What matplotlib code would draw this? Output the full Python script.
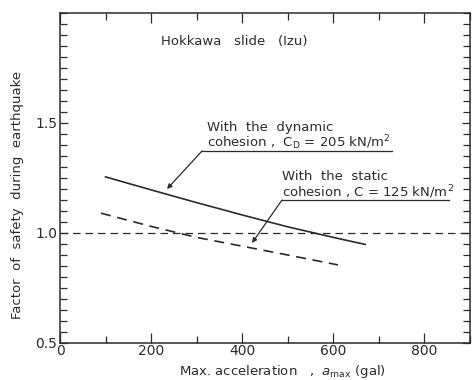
import matplotlib
matplotlib.use("Agg")
import matplotlib.pyplot as plt
from matplotlib.ticker import MultipleLocator, FixedLocator

# Factor of safety vs. maximum acceleration
acc_dynamic = [100, 200, 300, 400, 500, 600, 670]
fs_dynamic = [1.255, 1.196, 1.138, 1.082, 1.028, 0.980, 0.948]

acc_static = [90, 200, 300, 400, 500, 610]
fs_static = [1.09, 1.03, 0.980, 0.940, 0.900, 0.855]

fs_reference = 1.0
y_tick_values = [0.5, 1.0, 1.5]
y_tick_labels = ["0.5", "1.0", "1.5"]
x_tick_values = [0, 200, 400, 600, 800]

ink = "#2b2b2b"
plt.rcParams["font.family"] = ["DejaVu Sans"]

fig = plt.figure(figsize=(4.74, 3.80), dpi=100)
fig.patch.set_facecolor("white")
ax = fig.add_axes([60 / 474, 37 / 380, 410 / 474, 330 / 380])
ax.set_xlim(0, 900)
ax.set_ylim(0.5, 2.0)

ax.plot(acc_dynamic, fs_dynamic, color=ink, lw=1.2)
ax.plot(acc_static, fs_static, color=ink, lw=1.2, dashes=(6, 4))
ax.axhline(fs_reference, color=ink, lw=0.9, dashes=(6, 4))

for s in ax.spines.values():
    s.set_color(ink)
    s.set_linewidth(1.1)

ax.xaxis.set_major_locator(FixedLocator(x_tick_values))
ax.xaxis.set_minor_locator(MultipleLocator(100))
ax.yaxis.set_major_locator(FixedLocator(y_tick_values))
ax.set_yticklabels(y_tick_labels)
ax.yaxis.set_minor_locator(MultipleLocator(0.05))
ax.tick_params(which="both", direction="in", top=True, right=True, colors=ink,
               labelsize=10, labelcolor=ink)
ax.tick_params(which="major", length=7, width=0.9, pad=2)
ax.tick_params(which="minor", length=5, width=0.9)
ax.tick_params(axis="y", which="major", length=6)
ax.tick_params(axis="x", which="major", pad=1)


def fx(px):
    return px / 474


def fy(py):
    return 1 - py / 380


# Title inside the frame
fig.text(fx(161), fy(42), "Hokkawa   slide   (Izu)", fontsize=9.5,
         color=ink, va="center", ha="left")

# Annotation: dynamic cohesion
tx, ty = 202, 151
fig.text(fx(207), fy(127), "With  the  dynamic", fontsize=9.5,
         color=ink, va="center", ha="left")
fig.text(fx(207), fy(143),
         r"cohesion ,  C$_\mathrm{D}$ = 205 kN/m$^2$", fontsize=9.5,
         color=ink, va="center", ha="left")
ax.annotate("", xy=(fx(167), fy(189)), xycoords="figure fraction",
            xytext=(fx(tx), fy(ty)), textcoords="figure fraction",
            arrowprops=dict(arrowstyle="-|>", color=ink, lw=0.9,
                            mutation_scale=7, shrinkA=0, shrinkB=0))
fig.add_artist(plt.Line2D([fx(tx), fx(392)], [fy(ty), fy(ty)],
                          color=ink, lw=0.9))

# Annotation: static cohesion
sx, sy = 282, 200
fig.text(fx(282), fy(177), "With  the  static", fontsize=9.5,
         color=ink, va="center", ha="left")
fig.text(fx(282), fy(192), r"cohesion , C = 125 kN/m$^2$",
         fontsize=9.5, color=ink, va="center", ha="left")
ax.annotate("", xy=(fx(252), fy(243)), xycoords="figure fraction",
            xytext=(fx(sx), fy(sy)), textcoords="figure fraction",
            arrowprops=dict(arrowstyle="-|>", color=ink, lw=0.9,
                            mutation_scale=7, shrinkA=0, shrinkB=0))
fig.add_artist(plt.Line2D([fx(sx), fx(449)], [fy(sy), fy(sy)],
                          color=ink, lw=0.9))

# Axis labels
fig.text(fx(18), fy(195), "Factor  of  safety  during  earthquake",
         rotation=90, fontsize=9.5, color=ink, va="center", ha="center")
fig.text(fx(282), fy(371),
         r"Max. acceleration   ,  $a_\mathrm{max}$ (gal)", fontsize=9.5,
         color=ink, va="center", ha="center")

fig.savefig("out.png", dpi=100, facecolor=fig.get_facecolor())
